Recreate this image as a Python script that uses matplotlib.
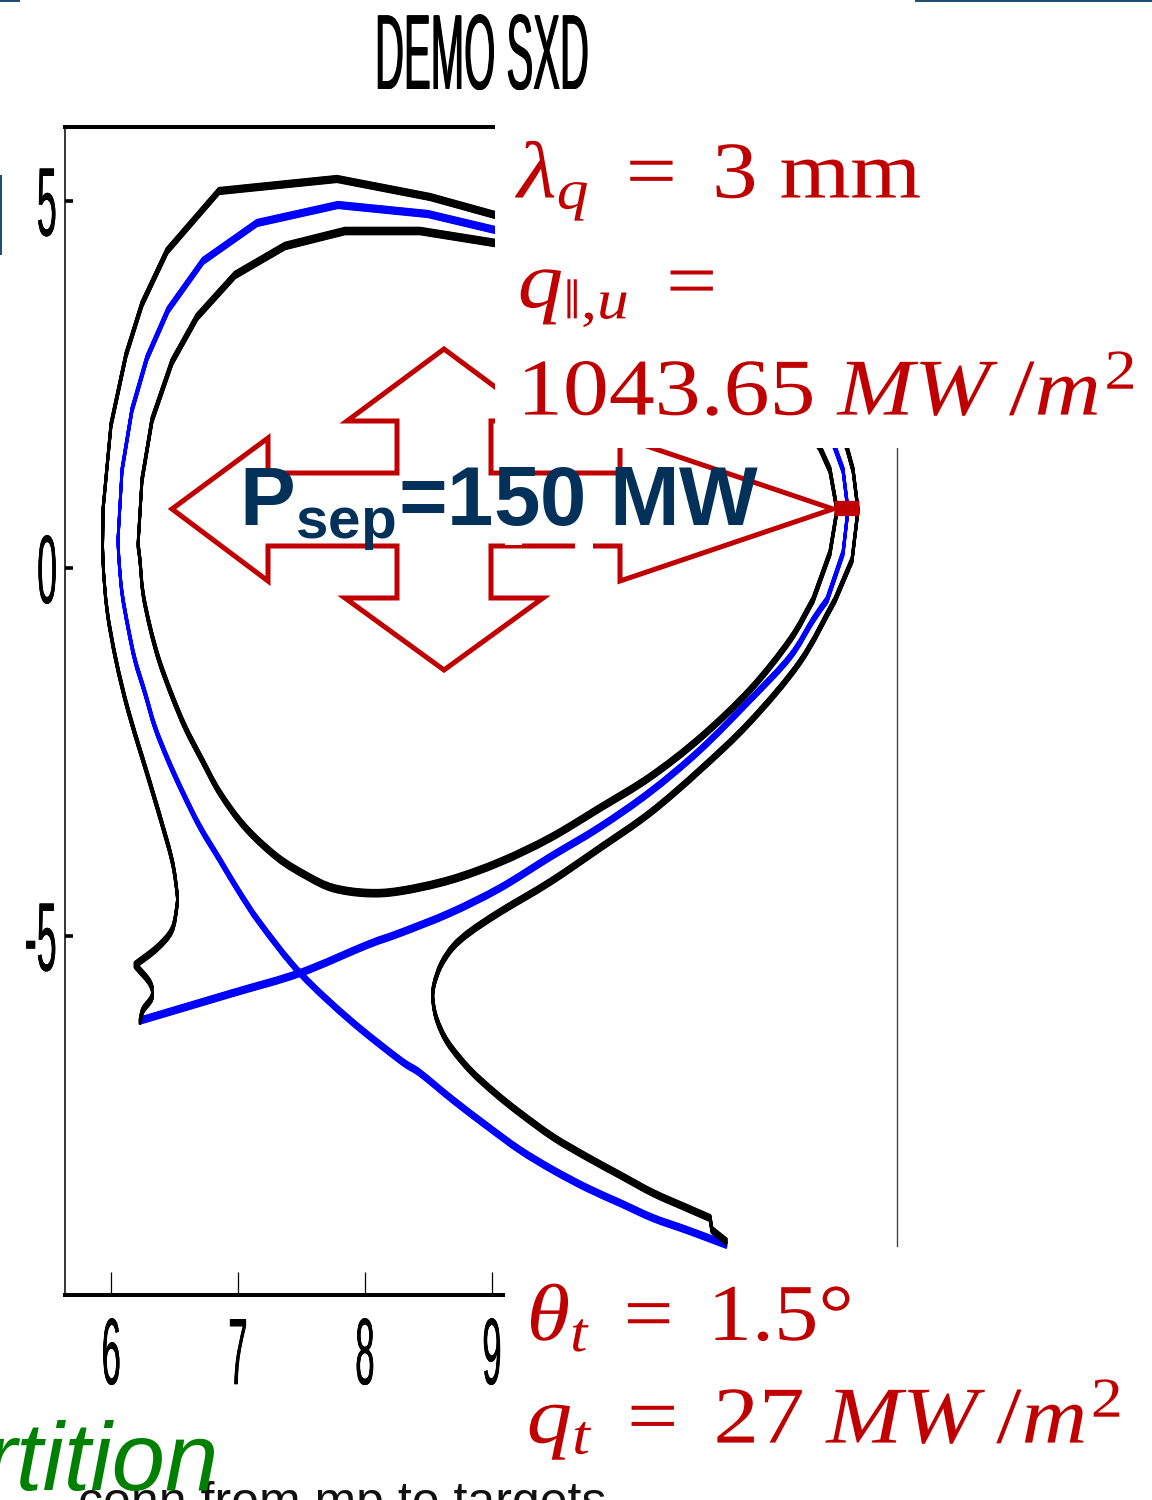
import numpy as np
import matplotlib
matplotlib.use("Agg")
import matplotlib.pyplot as plt
from matplotlib.patches import PathPatch, Polygon, Rectangle
from matplotlib.path import Path
from matplotlib.patheffects import AbstractPathEffect, Stroke
from matplotlib.transforms import Affine2D

plt.rcParams.update({
    'mathtext.fontset': 'custom',
    'mathtext.rm': 'Liberation Serif',
    'mathtext.it': 'Liberation Serif:italic',
    'mathtext.bf': 'Liberation Sans:bold',
    'mathtext.fallback': 'stix',
    'font.family': ['Liberation Sans', 'DejaVu Sans'],
})

# ---- data (R, Z in metres) ----
outer_left_r = [9.142, 9.024, 8.512, 7.78, 6.85, 6.441, 6.244, 6.118, 6.0, 5.937, 5.937, 5.969, 6.039, 6.134, 6.252,
                6.37, 6.48, 6.52, 6.52, 6.48, 6.362, 6.189, 6.307, 6.323, 6.252, 6.228]
outer_left_z = [4.735, 4.803, 5.048, 5.293, 5.129, 4.313, 3.592, 2.898, 1.946, 0.789, 0.109, -0.571, -1.252, -1.932,
                -2.612, -3.293, -3.973, -4.422, -4.585, -4.925, -5.17, -5.401, -5.646, -5.837, -6.014, -6.177]
outer_right_r = [11.756, 11.795, 11.843, 11.882, 11.835, 11.701, 11.425, 11.031, 10.638, 10.244, 9.85, 9.457, 9.063,
                 8.827, 8.693, 8.598, 8.543, 8.535, 8.567, 8.654, 8.827, 9.024, 9.22, 9.48, 9.748, 10.008, 10.268,
                 10.535, 10.717, 10.732, 10.85]
outer_right_z = [1.81, 1.633, 1.333, 0.789, 0.109, -0.435, -1.279, -2.095, -2.748, -3.333, -3.81, -4.272, -4.68,
                 -4.952, -5.156, -5.401, -5.673, -5.878, -6.15, -6.463, -6.83, -7.143, -7.415, -7.741, -8.014,
                 -8.259, -8.503, -8.707, -8.844, -9.007, -9.17]
sep_left_r = [9.142, 9.024, 8.496, 7.787, 7.15, 6.724, 6.449, 6.283, 6.165, 6.087, 6.055, 6.063, 6.087, 6.134, 6.189,
              6.268, 6.346, 6.449, 6.567, 6.701, 6.858, 7.0, 7.173, 7.488, 7.882, 8.276, 8.433, 8.693, 8.961, 9.22,
              9.48, 9.748, 10.008, 10.268, 10.535, 10.85]
sep_left_z = [4.544, 4.599, 4.816, 4.939, 4.694, 4.177, 3.51, 2.857, 2.15, 1.333, 0.381, 0.109, -0.34, -0.803, -1.252,
              -1.701, -2.163, -2.612, -3.061, -3.524, -3.973, -4.381, -4.83, -5.51, -6.15, -6.694, -6.871, -7.238,
              -7.592, -7.918, -8.19, -8.435, -8.639, -8.844, -9.007, -9.211]
sep_right_r = [11.661, 11.701, 11.764, 11.803, 11.764, 11.638, 11.528, 11.346, 11.031, 10.638, 10.244, 9.85, 9.457,
               9.063, 8.669, 8.276, 8.016, 7.488, 6.961, 6.244]
sep_right_z = [1.81, 1.633, 1.333, 0.789, 0.204, -0.435, -0.707, -1.211, -1.796, -2.476, -3.048, -3.524, -3.932,
               -4.354, -4.694, -4.966, -5.129, -5.51, -5.782, -6.15]
core_r = [9.142, 9.024, 8.433, 7.843, 7.37, 6.976, 6.677, 6.48, 6.323, 6.244, 6.213, 6.228, 6.252, 6.307, 6.378, 6.472,
          6.583, 6.717, 6.858, 7.055, 7.307, 7.543, 7.748, 8.016, 8.276, 8.669, 9.063, 9.457, 9.85, 10.244, 10.638,
          11.031, 11.346, 11.528, 11.661, 11.717, 11.661, 11.583, 11.488]
core_z = [4.381, 4.422, 4.585, 4.585, 4.381, 3.986, 3.415, 2.803, 2.014, 1.197, 0.313, 0.109, -0.34, -0.803, -1.252,
          -1.701, -2.163, -2.612, -3.061, -3.524, -3.932, -4.19, -4.354, -4.422, -4.395, -4.245, -4.0, -3.673,
          -3.265, -2.844, -2.313, -1.66, -0.98, -0.435, 0.204, 0.789, 1.333, 1.633, 1.878]
midplane_r = [11.693, 11.89]
midplane_z = [0.81, 0.81]

x_ticks = [6, 7, 8, 9]
x_tick_labels = ['6', '7', '8', '9']
y_ticks = [-5, 0, 5]
y_tick_labels = ['-5', '0', '5']

title_text = 'DEMO SXD'
lambda_text = r'$\lambda_q\ =\ 3\ \mathrm{mm}$'
qpar_text = r'$q_{\Vert{,}u}\ =$'
qval_text = r'$1043.65\ MW\;/m^2$'
theta_text = r'$\theta_t\ =\ 1.5\degree$'
qt_text = r'$q_t\ =\ 27\ MW\;/m^2$'
psep_text = r'$\mathbf{P_{sep}}$=150 MW'
green_text = 'rtition'
conn_text = 'conn from mp to targets'

RED = '#C00000'
NAVY = '#03315A'
BLUE = '#0000FF'
GREEN = '#008000'
BAR = '#1F4E79'


class Squeeze(AbstractPathEffect):
    """Scale a text horizontally about its left, centre or right edge."""
    def __init__(self, sx, anchor='center', bold=0.0):
        super().__init__()
        self.sx, self.anchor, self.bold = sx, anchor, bold

    def draw_path(self, renderer, gc, tpath, affine, rgbFace=None):
        ext = tpath.get_extents(affine)
        ox = {'left': ext.x0, 'center': (ext.x0 + ext.x1) / 2, 'right': ext.x1}[self.anchor]
        for d in ([-self.bold, 0, self.bold] if self.bold else [0]):
            t = affine + Affine2D().translate(-ox, 0).scale(self.sx, 1).translate(ox + d, 0)
            renderer.draw_path(gc, tpath, t, rgbFace)


def pen(half_px, steps=13):
    return [Stroke(offset=(0, d * 0.72)) for d in np.linspace(-half_px, half_px, steps)]


def curve_path(r, z, corners):
    """Path through the read points: round between them, except at the listed corners."""
    p = np.column_stack([r, z])
    n = len(p)
    verts, codes = [p[0]], [Path.MOVETO]
    for i in range(n - 1):
        a, b = p[i], p[i + 1]
        out = (b - a) if (i in corners or i == 0) else (b - p[i - 1]) / 2
        inn = (b - a) if ((i + 1) in corners or i + 1 == n - 1) else (p[i + 2] - a) / 2
        verts += [a + out / 3, b - inn / 3, b]
        codes += [Path.CURVE4] * 3
    return Path(verts, codes)


W, H = 1152, 1500
fig = plt.figure(figsize=(W / 100, H / 100), dpi=100, facecolor='white')
L, R, T, B = 65, 897, 127, 1295
ax = fig.add_axes([L / W, 1 - B / H, (R - L) / W, (B - T) / H])
ax.set_xlim(5.638, 12.189)
ax.set_ylim(-9.891, 6.0)
px = Affine2D().scale(1, -1).translate(0, H)  # reference pixels -> display

curves = [
    (sep_left_r, sep_left_z, BLUE, 2.8, set(range(11))),
    (sep_right_r, sep_right_z, BLUE, 2.8, set(range(6))),
    (outer_left_r, outer_left_z, 'black', 2.8, set(range(10)) | {21}),
    (outer_right_r, outer_right_z, 'black', 2.8, set(range(6)) | {28, 29}),
    (core_r, core_z, 'black', 3.0, set(range(11)) | set(range(33, 39))),
]
for r, z, c, half, corners in curves:
    ax.add_patch(PathPatch(curve_path(r, z, corners), fill=False, edgecolor=c, lw=1.9, zorder=3,
                           joinstyle='round', path_effects=pen(half)))
ax.plot(midplane_r, midplane_z, color=RED, lw=11, solid_capstyle='butt', zorder=4)

# spines and ticks
ax.spines['left'].set_linewidth(1.1)
ax.spines['top'].set_linewidth(2.9)
ax.spines['bottom'].set_linewidth(2.9)
ax.spines['right'].set_linewidth(1.0)
ax.spines['right'].set_color('#444444')
ax.spines['top'].set_bounds(5.638, 9.024)
ax.spines['bottom'].set_bounds(5.638, 9.087)
ax.spines['right'].set_bounds(-9.224, 1.633)

ax.set_xticks(x_ticks)
ax.set_xticklabels(x_tick_labels)
ax.set_yticks(y_ticks)
ax.set_yticklabels(y_tick_labels)
ax.tick_params(axis='x', direction='in', length=16.5, width=0.9, pad=14.5, labelsize=68)
ax.tick_params(axis='y', direction='in', length=5.5, width=2.6, pad=4, labelsize=70)
for lab in ax.get_xticklabels():
    lab.set_path_effects([Squeeze(0.37, 'center', 0.2)])
for lab in ax.get_yticklabels():
    lab.set_path_effects([Squeeze(0.37, 'right', 0.2)])

# white panel that hides the upper right of the plot
fig.add_artist(Rectangle((495, 100), W - 495, 348, transform=px, facecolor='white', edgecolor='none', zorder=5))

# power arrow
arrow_vertices = [(172, 509), (268, 438), (268, 473), (397, 473), (397, 421), (347, 421), (444, 349), (541, 421),
                  (491, 421), (491, 473), (620, 473), (620, 437), (833, 509), (620, 581), (620, 546), (491, 546),
                  (491, 598), (543, 598), (444, 670), (345, 598), (397, 598), (397, 546), (268, 546), (268, 581)]
fig.add_artist(Polygon(arrow_vertices, closed=True, transform=px, fill=False, edgecolor=RED, lw=3.6,
                       joinstyle='miter', zorder=4.5))
# the arrow's top right stays behind the panel
fig.add_artist(Rectangle((495, 340), 160, 108, transform=px, facecolor='white', edgecolor='none', zorder=5))
fig.add_artist(Rectangle((575, 540), 18, 12, transform=px, facecolor='white', edgecolor='none', zorder=5))
fig.add_artist(Rectangle((505, 541), 17, 4, transform=px, facecolor='white', edgecolor='none', zorder=5))

# corner bars left from the slide
for x0, y0, w, h in [(0, 0, 20, 1.6), (915, 0, 237, 1.6), (0, 175, 2, 80)]:
    fig.add_artist(Rectangle((x0, y0), w, h, transform=px, facecolor=BAR, edgecolor='none', zorder=5))


def put(x, y, s, size, color, sx=1.0, anchor='left', bold=0.0, **kw):
    t = fig.text(x, H - y, s, transform=Affine2D(), fontsize=size, color=color, ha=anchor, va='baseline',
                 zorder=6, **kw)
    if sx != 1.0 or bold:
        t.set_path_effects([Squeeze(sx, anchor, bold)])
    return t


put(481, 89, title_text, 77, 'black', sx=0.375, anchor='center', bold=0.6)
put(517, 198, lambda_text, 58, RED, sx=1.13)
put(518, 308, qpar_text, 58, RED, sx=1.13)
put(518, 415, qval_text, 58, RED, sx=1.14)
put(527, 1340, theta_text, 58, RED, sx=1.1)
put(527, 1443, qt_text, 58, RED, sx=1.13)
put(239, 526, psep_text, 60, NAVY, weight='bold')
put(78, 1517, conn_text, 36, '#111111')
put(219, 1490, green_text, 69, GREEN, anchor='right', style='italic')

fig.savefig('out.png', dpi=100, facecolor='white')
